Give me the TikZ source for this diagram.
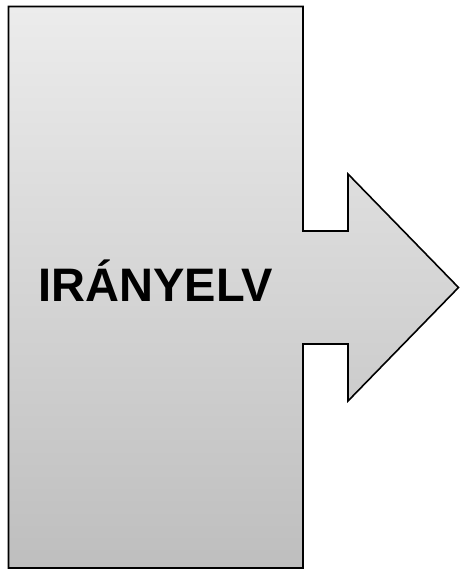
\documentclass[tikz,border=0pt]{standalone}
\usepackage{fontspec}
\setmainfont{Liberation Sans}
\definecolor{shadetop}{RGB}{236,236,236}
\definecolor{shadebottom}{RGB}{190,190,190}

\begin{document}
\begin{tikzpicture}[x=1pt, y=-1pt]
      \useasboundingbox (0,0) rectangle (461,570);
      \draw[black, line width=1.6pt, top color=shadetop, bottom color=shadebottom]
        (8.5,6.5) -- (303,6.5) -- (303,231) -- (348,231) -- (348,174)
        -- (458.5,287.5) -- (348,401) -- (348,344) -- (303,344)
        -- (303,568) -- (8.5,568) -- cycle;
      \node[font=\bfseries\fontsize{47}{47}\selectfont] (guide) at (155.75,281) {IRÁNYELV};
    \end{tikzpicture}
\end{document}
